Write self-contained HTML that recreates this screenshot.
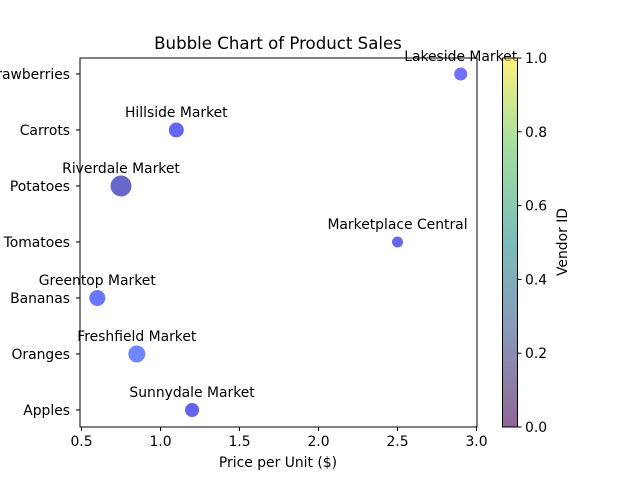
<!DOCTYPE html>
<html><head><meta charset="utf-8"><style>
body{margin:0;background:#fff}
svg text{font-family:"DejaVu Sans","Liberation Sans",sans-serif;fill:#000}
</style></head><body>
<svg id="c" width="640" height="480" xmlns="http://www.w3.org/2000/svg">
<defs><linearGradient id="vir" x1="0" y1="1" x2="0" y2="0">
<stop offset="0" stop-color="#440154"/><stop offset="0.25" stop-color="#3b528b"/><stop offset="0.5" stop-color="#21918c"/><stop offset="0.75" stop-color="#5ec962"/><stop offset="1" stop-color="#fde725"/></linearGradient></defs>
<text x="278" y="49" font-size="16.6" text-anchor="middle">Bubble Chart of Product Sales</text>
<rect x="80" y="58" width="397" height="369" fill="none" stroke="#000" stroke-width="1"/>
<g id="xt"></g><g id="yt"></g><g id="pts"></g>
<text x="278" y="467" font-size="13.9" text-anchor="middle">Price per Unit ($)</text>
<rect x="502.5" y="58" width="15" height="369" fill="url(#vir)" fill-opacity="0.6" stroke="#000" stroke-width="1"/>
<g id="ct"></g>
<text transform="translate(567,242) rotate(-90)" font-size="13.9" text-anchor="middle">Vendor ID</text>
</svg>
<script>
const categories=["Apples","Oranges","Bananas","Tomatoes","Potatoes","Carrots","Strawberries"];
const prices=[1.2,0.85,0.6,2.5,0.75,1.1,2.9];
const vendors=["Sunnydale Market","Freshfield Market","Greentop Market","Marketplace Central","Riverdale Market","Hillside Market","Lakeside Market"];
const sizes=[7.5,9,8.5,6,11,8,7];
const colors=["#5c5cec","#6680ff","#6270fc","#6060ec","#6060c8","#5e5ef4","#6868fc"];
const xTicks=[0.5,1.0,1.5,2.0,2.5,3.0];
const cTicks=[0.0,0.2,0.4,0.6,0.8,1.0];
const NS="http://www.w3.org/2000/svg";
const FS=13.9;
const X=v=>81.5+(v-0.5)*158;
const Y=i=>410-i*56;
const C=v=>427-v*369;
function mk(t,a,p){const e=document.createElementNS(NS,t);for(const k in a)e.setAttribute(k,a[k]);p.appendChild(e);return e;}
const xt=document.getElementById('xt');
xTicks.forEach(v=>{const l=mk('line',{x1:X(v),x2:X(v),y1:427,y2:431,stroke:'#000'},xt);


const t=mk('text',{x:X(v),y:446,'font-size':FS,'text-anchor':'middle'},xt);t.textContent=v.toFixed(1);

});
const yt=document.getElementById('yt');
categories.forEach((c,i)=>{const l=mk('line',{x1:76,x2:80,y1:Y(i),y2:Y(i),stroke:'#000'},yt);


const t=mk('text',{x:70,y:Y(i)+5,'font-size':FS,'text-anchor':'end'},yt);t.textContent=c;

});
const pts=document.getElementById('pts');
categories.forEach((c,i)=>{const b=mk('circle',{cx:X(prices[i]),cy:Y(i),r:sizes[i],fill:colors[i],stroke:'#fff','stroke-width':1,'fill-opacity':0.95},pts);


const t=mk('text',{x:X(prices[i]),y:Y(i)-13,'font-size':FS,'text-anchor':'middle'},pts);t.textContent=vendors[i];

});
const ct=document.getElementById('ct');
cTicks.forEach(v=>{const l=mk('line',{x1:517.5,x2:521.5,y1:C(v),y2:C(v),stroke:'#000'},ct);


const t=mk('text',{x:525,y:C(v)+5,'font-size':FS},ct);t.textContent=v.toFixed(1);

});
</script>
</body></html>
